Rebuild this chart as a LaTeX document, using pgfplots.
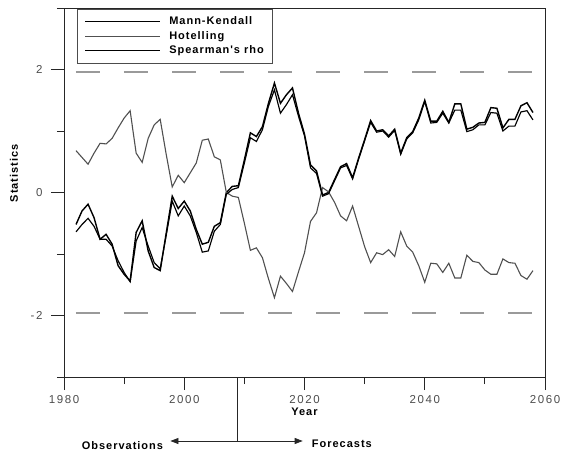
\documentclass[border=0pt]{standalone}
\usepackage{fontspec}
\setmainfont{Liberation Sans}
\newfontfamily\spaced[LetterSpace=9]{Liberation Sans}
\newfontfamily\wide[LetterSpace=14]{Liberation Sans}
\usepackage{pgfplots}
\usepackage{pgfplotstable}
\pgfplotsset{compat=1.18}
\usetikzlibrary{arrows.meta}

% Trend test statistics, observed (to 2008) and forecast years
\pgfplotstableread{
year  mk     hot    sr
1982 -0.52   0.68  -0.64
1983 -0.30   0.57  -0.52
1984 -0.19   0.46  -0.42
1985 -0.41   0.64  -0.55
1986 -0.76   0.80  -0.76
1987 -0.68   0.79  -0.76
1988 -0.84   0.88  -0.87
1989 -1.19   1.05  -1.11
1990 -1.33   1.21  -1.30
1991 -1.44   1.33  -1.45
1992 -0.65   0.64  -0.79
1993 -0.46   0.49  -0.57
1994 -0.95   0.88  -0.87
1995 -1.22   1.10  -1.14
1996 -1.27   1.19  -1.24
1997 -0.66   0.62  -0.70
1998 -0.06   0.09  -0.14
1999 -0.26   0.28  -0.38
2000 -0.14   0.16  -0.22
2001 -0.30   0.32  -0.38
2002 -0.60   0.48  -0.65
2003 -0.84   0.85  -0.97
2004 -0.81   0.87  -0.95
2005 -0.55   0.58  -0.63
2006 -0.49   0.53  -0.52
2007  0.00   0.00  -0.03
2008  0.10  -0.06   0.05
2009  0.11  -0.08   0.08
2010  0.53  -0.50   0.48
2011  0.97  -0.94   0.89
2012  0.91  -0.90   0.83
2013  1.07  -1.06   1.02
2014  1.45  -1.40   1.40
2015  1.78  -1.71   1.67
2016  1.45  -1.36   1.29
2017  1.59  -1.48   1.43
2018  1.70  -1.61   1.59
2019  1.29  -1.29   1.24
2020  0.95  -0.98   0.92
2021  0.45  -0.47   0.40
2022  0.35  -0.33   0.31
2023 -0.04   0.08  -0.06
2024  0.00   0.01  -0.02
2025  0.21  -0.16   0.19
2026  0.42  -0.38   0.40
2027  0.47  -0.46   0.44
2028  0.24  -0.22   0.22
2029  0.56  -0.55   0.54
2030  0.86  -0.88   0.84
2031  1.17  -1.14   1.14
2032  1.00  -0.98   0.98
2033  1.02  -1.01   1.00
2034  0.92  -0.93   0.90
2035  1.03  -1.04   1.01
2036  0.64  -0.64   0.62
2037  0.89  -0.87   0.87
2038  0.99  -0.97   0.97
2039  1.21  -1.19   1.18
2040  1.50  -1.46   1.48
2041  1.16  -1.15   1.13
2042  1.16  -1.16   1.14
2043  1.32  -1.30   1.29
2044  1.14  -1.15   1.13
2045  1.44  -1.39   1.34
2046  1.44  -1.39   1.34
2047  1.03  -1.02   0.99
2048  1.06  -1.12   1.02
2049  1.13  -1.14   1.10
2050  1.14  -1.26   1.10
2051  1.38  -1.33   1.30
2052  1.37  -1.33   1.29
2053  1.05  -1.08   1.00
2054  1.19  -1.14   1.08
2055  1.19  -1.15   1.08
2056  1.41  -1.35   1.31
2057  1.46  -1.41   1.33
2058  1.30  -1.27   1.18
}\stats

\definecolor{hotgray}{HTML}{505050}
\definecolor{refgray}{HTML}{9A9A9A}

\begin{document}
\begin{tikzpicture}
\path[use as bounding box] (-64bp,-74bp) rectangle (501bp,377bp);
\begin{axis}[
  scale only axis,
  width=481bp, height=369bp,
  xmin=1980, xmax=2060, ymin=-3, ymax=3,
  clip=false,
  axis line style={black!85, line width=0.8bp},
  tick pos=left,
  tick align=outside,
  major tick length=13bp,
  minor tick length=7bp,
  tick style={black!85, line width=0.8bp},
  xtick={1980,2000,2020,2040,2060},
  xticklabels={1980,2000,2020,2040,2060},
  minor xtick={1990,2010,2030,2050},
  ytick={-2,0,2},
  yticklabels={-2,0,2},
  minor ytick={-3,-1,1,3},
  tick label style={font=\wide\fontsize{11.5bp}{13bp}\selectfont, text=black!70},
  xticklabel style={yshift=-2bp},
  yticklabel style={xshift=-5bp},
  xlabel={Year},
  xlabel style={at={(axis description cs:0.5,0)}, anchor=center, yshift=-35bp,
    font=\spaced\bfseries\fontsize{11bp}{13bp}\selectfont},
  ylabel={Statistics},
  ylabel style={at={(axis description cs:-0.104,0.552)}, anchor=center,
    font=\spaced\bfseries\fontsize{11bp}{13bp}\selectfont},
  legend cell align=left,
  legend image code/.code={\draw[#1] (0bp,0bp) -- (75bp,0bp);},
  legend style={
    at={(rel axis cs:0.027,0.997)}, anchor=north west,
    draw=black!70, line width=0.8bp, fill=white,
    font=\spaced\bfseries\fontsize{11bp}{13bp}\selectfont,
    inner xsep=7bp, inner ysep=5.5bp, row sep=1bp,
    nodes={inner sep=1.5bp, text height=8bp, text depth=2.5bp},
    /tikz/every odd column/.append style={column sep=7bp},
  },
]
\addplot[black, line width=1.4bp] table[x=year, y=mk] {\stats};
\addlegendentry{Mann-Kendall}
\addplot[hotgray, line width=1.1bp] table[x=year, y=hot] {\stats};
\addlegendentry{Hotelling}
\addplot[black, line width=1.15bp] table[x=year, y=sr] {\stats};
\addlegendentry{Spearman's rho}

% 95% critical values
\addplot[refgray, line width=1.3bp, dash pattern=on 24bp off 24bp, dash phase=36bp, forget plot]
  coordinates {(1980,1.96) (2060,1.96)};
\addplot[refgray, line width=1.3bp, dash pattern=on 24bp off 24bp, dash phase=36bp, forget plot]
  coordinates {(1980,-1.96) (2060,-1.96)};

% split between observed and forecast years
\draw[black!85, line width=0.8bp] (axis cs:2008.8,-3) -- ([yshift=-64bp]axis cs:2008.8,-3);
\draw[black!85, line width=0.8bp, {Triangle[length=8bp,width=6bp]}-{Triangle[length=8bp,width=6bp]}]
  ([yshift=-64bp]axis cs:1997.7,-3) -- ([yshift=-64bp]axis cs:2019.7,-3);
\node[anchor=east, inner sep=0pt, font=\spaced\bfseries\fontsize{11bp}{13bp}\selectfont]
  at ([yshift=-69bp]axis cs:1996.5,-3) {Observations};
\node[anchor=west, inner sep=0pt, font=\spaced\bfseries\fontsize{11bp}{13bp}\selectfont]
  at ([yshift=-67bp]axis cs:2021.2,-3) {Forecasts};
\end{axis}
\end{tikzpicture}
\end{document}
